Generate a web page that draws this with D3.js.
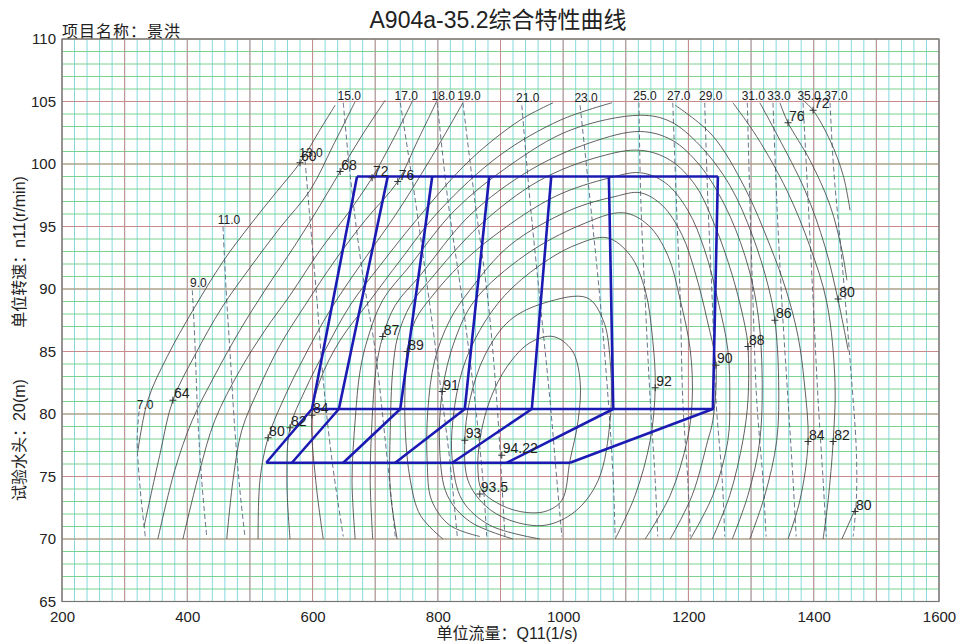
<!DOCTYPE html>
<html>
<head>
<meta charset="utf-8">
<script src="https://cdnjs.cloudflare.com/ajax/libs/d3/7.8.5/d3.min.js"></script>
<style>
  body { margin: 0; background: #fff; }
  text { font-family: "Liberation Sans", Arial, "Noto Sans CJK SC", sans-serif; fill: #222; }
</style>
</head>
<body>
<script>
// ---- data: axes ----
const xTicks = [200, 400, 600, 800, 1000, 1200, 1400, 1600];
const yTicks = [65, 70, 75, 80, 85, 90, 95, 100, 105, 110];

// ---- data: efficiency contours [Q11, n11] ----
const eff60 = [[321,77.0],[337,81.1],[368,84.6],[409,88.3],[457,92.2],[500,95.1],[543,97.8],[580,100.1],[609,102.5],[636,104.7]];
const eff64 = [[331,71.0],[356,76.7],[377,81.1],[412,84.7],[455,88.5],[500,91.7],[548,94.9],[596,97.9],[633,101.5],[668,105.0]];
const eff68 = [[353,70.0],[380,75.5],[408,79.5],[444,83.1],[484,86.7],[524,89.9],[572,93.5],[612,96.7],[644,99.4],[679,102.3],[716,105.1]];
const eff72 = [[393,70.0],[420,75.5],[444,79.5],[484,83.5],[524,86.7],[564,89.5],[612,93.1],[660,96.3],[695,98.9],[728,101.9],[760,105.1]];
const eff72R = [[1383,105.1],[1399,104.3],[1426,101.9],[1447,99.1],[1458,96.3]];
const eff76 = [[463,70.0],[473,74.7],[487,78.7],[513,81.9],[548,85.5],[588,88.7],[636,92.3],[684,95.5],[736,98.6],[768,101.9],[799,105.1]];
const eff76R = [[1346,104.9],[1359,103.3],[1394,100.3],[1426,96.7],[1445,93.1],[1453,90.7]];
const eff80 = [[513,70.0],[516,74.7],[529,78.1],[553,81.1],[588,84.7],[628,88.3],[676,91.9],[732,95.9],[787,100.3],[840,104.9]];
const eff80R = [[1314,104.9],[1343,102.2],[1386,97.9],[1418,93.4],[1439,89.1],[1455,85.1]];
const eff80B = [[1469,72.7],[1445,70.0]];
const eff82 = [[564,70.0],[559,74.7],[564,78.9],[588,81.9],[620,85.1],[660,88.7],[708,91.9],[772,95.9],[851,100.3],[931,103.5],[984,104.9]];
const eff82R = [[1271,104.9],[1309,102.2],[1357,97.9],[1394,93.4],[1421,88.9],[1434,82.5],[1431,77.8],[1423,73.1],[1415,70.0]];
const eff84 = [[617,70.0],[605,74.7],[599,79.9],[612,82.7],[644,85.9],[692,89.1],[740,92.3],[803,96.3],[899,100.7],[995,103.5],[1078,104.9]];
const eff84R = [[1179,104.7],[1238,102.3],[1290,98.1],[1330,93.5],[1356,89.9],[1375,86.2],[1385,82.5],[1391,77.8],[1378,73.1],[1359,70.0]];
const eff86 = [[668,70.0],[663,74.7],[668,79.5],[676,83.5],[689,86.2],[712,89.1],[756,91.9],[827,96.3],[915,99.9],[1011,102.7],[1123,103.9],
               [1171,103.4],[1218,101.5],[1266,98.3],[1302,94.3],[1327,90.3],[1338,87.5],[1344,82.7],[1341,77.9],[1322,73.5],[1298,70.0]];
const eff87 = [[696,70.0],[692,74.7],[695,79.5],[701,83.5],[712,86.2],[732,88.7],[772,91.1],[851,95.9],[947,99.5],[1043,101.7],[1123,102.6],
               [1174,101.9],[1218,99.9],[1258,96.7],[1290,92.7],[1309,88.7],[1317,84.3],[1314,77.9],[1295,73.5],[1270,70.0]];
const eff88 = [[735,70.0],[724,73.9],[724,78.7],[728,83.5],[736,86.2],[756,88.7],[787,90.7],[867,95.1],[963,98.7],[1059,100.6],[1123,101.1],
               [1171,100.3],[1211,98.3],[1242,95.1],[1270,91.1],[1290,87.1],[1295,85.4],[1295,81.1],[1287,77.9],[1266,73.5],[1238,70.0]];
const eff89 = [[808,70.0],[772,71.9],[756,74.7],[748,78.7],[748,82.7],[751,85.0],[764,87.5],[792,89.5],[835,91.9],[891,94.3],[987,97.4],[1075,98.9],[1123,99.3],
               [1163,98.5],[1199,96.3],[1226,93.1],[1247,89.1],[1263,85.1],[1266,81.1],[1263,77.9],[1239,73.5],[1203,70.0]];
const eff90 = [[867,70.2],[819,71.1],[790,73.1],[783,76.1],[784,80.3],[795,84.3],[819,87.5],[851,89.9],[915,93.5],[1011,96.3],[1083,97.4],[1123,97.7],
               [1158,96.7],[1190,94.3],[1212,91.1],[1230,87.5],[1244,83.9],[1239,79.5],[1231,77.9],[1206,73.5],[1171,70.0]];
const eff91 = [[920,70.0],[851,71.4],[815,73.5],[803,77.1],[807,81.8],[827,85.9],[859,89.1],[939,92.7],[1027,95.1],[1096,96.1],
               [1136,95.1],[1167,92.7],[1187,89.1],[1203,85.1],[1206,81.1],[1198,77.9],[1171,73.5],[1131,70.0]];
const eff92 = [[963,70.0],[883,71.1],[839,73.1],[823,76.3],[824,79.5],[839,83.5],[867,86.7],[907,89.5],[963,91.9],[1019,93.5],[1070,94.1],
               [1107,92.7],[1131,89.9],[1143,85.9],[1147,82.1],[1139,77.9],[1115,73.5],[1083,70.0]];
const eff93 = [[1038,89.3],[1064,87.5],[1075,84.3],[1075,79.5],[1056,74.7],[1019,72.2],[971,71.1],[915,71.5],[875,72.7],[848,74.7],[843,77.9],
               [851,81.1],[875,84.7],[915,87.5],[971,88.9]];
const eff935 = [[984,86.2],[1014,85.1],[1027,82.7],[1024,79.5],[1011,76.3],[998,73.1],[971,72.2],[931,72.2],[894,72.9],[870,73.9],[864,75.5],
                [867,77.9],[883,81.1],[912,83.9],[947,85.7]];

const openLines = [eff60, eff64, eff68, eff72, eff72R, eff76, eff76R, eff80, eff80R, eff80B, eff82, eff82R, eff84, eff84R,
                   eff86, eff87, eff88, eff89, eff90, eff91, eff92];
const closedLines = [eff93, eff935];

// efficiency labels: [Q11, n11, text]
const effLabels = [
  [580,100.1,"60"],[377,81.1,"64"],[644,99.4,"68"],[695,98.9,"72"],[736,98.6,"76"],
  [529,78.1,"80"],[564,78.9,"82"],[599,79.9,"84"],[712,86.2,"87"],[751,85.0,"89"],[807,81.8,"91"],
  [843,77.9,"93"],[902,76.7,"94.22"],[867,73.6,"93.5"],[1147,82.1,"92"],[1244,83.9,"90"],[1295,85.4,"88"],
  [1338,87.5,"86"],[1439,89.2,"80"],[1391,77.8,"84"],[1431,77.8,"82"],[1466,72.2,"80"],[1359,103.3,"76"],[1399,104.3,"72"]
];

// ---- data: guide vane opening lines (dashed) ----
const openingNames = ["7.0","9.0","11.0","13.0","15.0","17.0","18.0","19.0","21.0","23.0","25.0","27.0","29.0","31.0","33.0","35.0","37.0"];
const op7  = [[323,80.2],[320,77.9],[325,73.9],[333,70.2]];
const op9  = [[408,89.9],[412,85.9],[417,79.5],[423,74.7],[431,70.2]];
const op11 = [[457,95.0],[462,89.9],[468,85.1],[476,78.7],[484,73.9],[492,70.2]];
const op13 = [[588,100.3],[596,95.5],[607,89.1],[617,82.7],[631,76.3],[649,70.2]];
const op15 = [[649,104.9],[660,99.1],[679,91.5],[700,85.1],[716,77.9],[732,70.2]];
const op17 = [[740,104.9],[764,97.1],[784,89.9],[803,82.7],[819,76.3],[831,70.2]];
const op18 = [[799,104.9],[816,97.1],[839,89.1],[859,81.1],[872,74.7],[878,70.2]];
const op19 = [[840,104.9],[859,97.1],[880,89.1],[894,81.1],[902,74.7],[907,70.2]];
const op21 = [[934,104.7],[947,97.1],[963,89.1],[979,81.1],[990,74.7],[998,70.2]];
const op23 = [[1027,104.7],[1043,97.1],[1059,89.1],[1072,81.1],[1080,74.7],[1083,70.2]];
const op25 = [[1121,104.9],[1124,97.1],[1131,89.1],[1139,81.1],[1147,74.7],[1151,70.2]];
const op27 = [[1175,104.9],[1182,95.3],[1187,89.1],[1191,81.1],[1199,74.7],[1203,70.2]];
const op29 = [[1226,104.9],[1231,97.1],[1238,89.1],[1244,81.1],[1254,74.7],[1258,70.2]];
const op31 = [[1294,104.9],[1298,97.1],[1303,89.1],[1309,81.1],[1319,74.7],[1324,70.2]];
const op33 = [[1335,104.9],[1341,97.1],[1349,89.1],[1359,81.1],[1367,74.7],[1372,70.2]];
const op35 = [[1383,104.9],[1391,97.1],[1399,89.1],[1407,81.1],[1415,74.7],[1420,70.2]];
const op37 = [[1426,104.9],[1432,99.5],[1445,92.3],[1458,84.3],[1468,77.1],[1468,73.1],[1463,70.2]];
const openings = [op7, op9, op11, op13, op15, op17, op18, op19, op21, op23, op25, op27, op29, op31, op33, op35, op37];

// ---- data: operating region (blue) ----
const runTopN = 99.0, runMidN = 80.4, runBotN = 76.1;
const runTopQ = [671, 720, 791, 882, 981, 1073, 1247];
const runMidQ = [599, 642, 740, 843, 950, 1080, 1239];
const runBotQ = [526, 567, 649, 732, 823, 910, 1011];

// ---- chart ----
const width = 958, height = 643;
const x = d3.scaleLinear().domain([200, 1600]).range([62, 939]);
const y = d3.scaleLinear().domain([65, 110]).range([601.5, 39]);

const svg = d3.select("body").append("svg")
  .attr("width", width).attr("height", height);

const grid = svg.append("g");
grid.selectAll(".vmin").data(d3.range(200, 1601, 20)).enter().append("line")
  .attr("x1", d => x(d)).attr("x2", d => x(d)).attr("y1", y(65)).attr("y2", y(110))
  .attr("stroke", "#86d9df").attr("stroke-width", 1);
grid.selectAll(".hmin").data(d3.range(65, 110.5, 1)).enter().append("line")
  .attr("x1", x(200)).attr("x2", x(1600)).attr("y1", d => y(d)).attr("y2", d => y(d))
  .attr("stroke", "#79d28f").attr("stroke-width", 1);
grid.selectAll(".vmaj").data(d3.range(200, 1601, 100)).enter().append("line")
  .attr("x1", d => x(d)).attr("x2", d => x(d)).attr("y1", y(65)).attr("y2", y(110))
  .attr("stroke", "#c88a8a").attr("stroke-width", 1);
grid.selectAll(".hmaj").data(d3.range(65, 111, 5)).enter().append("line")
  .attr("x1", x(200)).attr("x2", x(1600)).attr("y1", d => y(d)).attr("y2", d => y(d))
  .attr("stroke", "#c88a8a").attr("stroke-width", 1);

svg.append("rect")
  .attr("x", x(200)).attr("y", y(110))
  .attr("width", x(1600) - x(200)).attr("height", y(65) - y(110))
  .attr("fill", "none").attr("stroke", "#777").attr("stroke-width", 1.2);

// axes (labels only, the frame is the rect)
const xAxis = d3.axisBottom(x).tickValues(xTicks).tickFormat(d3.format("d")).tickSize(0).tickPadding(10);
const yAxis = d3.axisLeft(y).tickValues(yTicks).tickFormat(d3.format("d")).tickSize(0).tickPadding(6);
const gx = svg.append("g").attr("transform", "translate(0," + y(65) + ")").call(xAxis);
const gy = svg.append("g").attr("transform", "translate(" + x(200) + ",0)").call(yAxis);
[gx, gy].forEach(g => {
  g.select(".domain").remove();
  g.selectAll("text").attr("font-size", 15).attr("fill", "#222")
    .attr("font-family", '"Liberation Sans", Arial, sans-serif');
});

// opening lines
const smooth = d3.line().x(d => x(d[0])).y(d => y(d[1])).curve(d3.curveCatmullRom.alpha(0.5));
const smoothClosed = d3.line().x(d => x(d[0])).y(d => y(d[1])).curve(d3.curveCatmullRomClosed.alpha(0.5));

svg.append("g").selectAll("path").data(openings).enter().append("path")
  .attr("d", smooth).attr("fill", "none")
  .attr("stroke", "#56637c").attr("stroke-width", 0.9).attr("stroke-dasharray", "5,3");

svg.append("g").selectAll("text").data(openings).enter().append("text")
  .attr("x", d => x(d[0][0]) + 6).attr("y", d => y(d[0][1]) - 3)
  .attr("text-anchor", "middle").attr("font-size", 12)
  .text((d, i) => openingNames[i]);

// efficiency contours
const effG = svg.append("g").attr("fill", "none").attr("stroke", "#444").attr("stroke-width", 0.85);
effG.selectAll(".open").data(openLines).enter().append("path").attr("d", smooth);
effG.selectAll(".closed").data(closedLines).enter().append("path").attr("d", smoothClosed);

// operating region
const blue = "#1b1bb3";
const runG = svg.append("g").attr("fill", "none").attr("stroke", blue).attr("stroke-width", 2.6)
  .attr("stroke-linejoin", "round");
const straight = d3.line().x(d => x(d[0])).y(d => y(d[1]));
runG.append("path").attr("d", straight([[d3.min(runTopQ), runTopN], [d3.max(runTopQ), runTopN]]));
runG.append("path").attr("d", straight([[d3.min(runMidQ), runMidN], [d3.max(runMidQ), runMidN]]));
runG.append("path").attr("d", straight([[d3.min(runBotQ), runBotN], [d3.max(runBotQ), runBotN]]));
runG.selectAll(".leg").data(runTopQ).enter().append("path")
  .attr("d", (d, i) => straight([[d, runTopN], [runMidQ[i], runMidN], [runBotQ[i], runBotN]]));

// efficiency labels with + marks
const lab = svg.append("g");
lab.selectAll("path").data(effLabels).enter().append("path")
  .attr("d", d => {
    const px = x(d[0]), py = y(d[1]);
    return "M" + (px - 3.5) + "," + py + "h7M" + px + "," + (py - 3.5) + "v7";
  })
  .attr("stroke", "#333").attr("stroke-width", 1);
lab.selectAll("text").data(effLabels).enter().append("text")
  .attr("x", d => x(d[0]) + 1).attr("y", d => y(d[1]) - 2)
  .attr("font-size", 14)
  .text(d => d[2]);

// titles
svg.append("text").attr("x", 498).attr("y", 28).attr("text-anchor", "middle")
  .attr("font-size", 23).text("A904a-35.2综合特性曲线");
svg.append("text").attr("x", 62).attr("y", 37).attr("font-size", 16).attr("letter-spacing", 1)
  .attr("font-family", '"Noto Sans CJK SC", sans-serif').attr("fill", "#333")
  .text("项目名称：景洪");
svg.append("text").attr("x", 507).attr("y", 639).attr("text-anchor", "middle")
  .attr("font-size", 16).attr("font-family", '"Noto Sans CJK SC", "Liberation Sans", sans-serif')
  .attr("fill", "#333").text("单位流量：Q11(1/s)");
svg.append("text").attr("transform", "translate(25,252) rotate(-90)").attr("text-anchor", "middle")
  .attr("font-size", 16).attr("font-family", '"Noto Sans CJK SC", "Liberation Sans", sans-serif')
  .attr("fill", "#333").text("单位转速：n11(r/min)");
svg.append("text").attr("transform", "translate(25,440) rotate(-90)").attr("text-anchor", "middle")
  .attr("font-size", 16).attr("font-family", '"Noto Sans CJK SC", "Liberation Sans", sans-serif')
  .attr("fill", "#333").text("试验水头：20(m)");
</script>
</body>
</html>
